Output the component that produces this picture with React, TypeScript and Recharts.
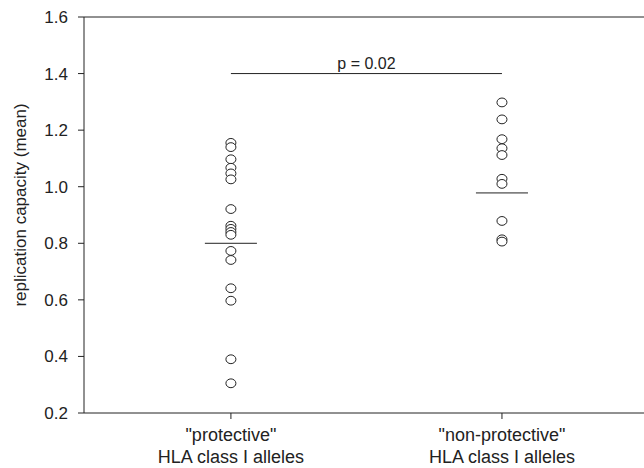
import { ScatterChart, Scatter, XAxis, YAxis, ReferenceLine } from 'recharts'

// replication capacity per allele
const protectiveValues = [1.155, 1.14, 1.097, 1.067, 1.047, 1.026, 0.921, 0.862, 0.851, 0.84, 0.83, 0.773, 0.741, 0.641, 0.597, 0.39, 0.305]
const nonProtectiveValues = [1.298, 1.238, 1.168, 1.136, 1.112, 1.028, 1.01, 0.879, 0.814, 0.806]
const groupMeans = [0.8, 0.978]
const groupLabels = [['"protective"', 'HLA class I alleles'], ['"non-protective"', 'HLA class I alleles']]
const yTicks = [0.2, 0.4, 0.6, 0.8, 1.0, 1.2, 1.4, 1.6]
const pValue = 'p = 0.02'
const bracketLevel = 1.4

const protectiveData = protectiveValues.map((v) => ({ x: 1, y: v }))
const nonProtectiveData = nonProtectiveValues.map((v) => ({ x: 2, y: v }))

const ink = '#222'
const font = '"Liberation Sans", Arial, sans-serif'
const meanHalf = 0.096

function OpenDot(props: any) {
  const { cx, cy } = props
  return <ellipse cx={cx} cy={cy} rx={5} ry={4.4} fill="#fff" stroke={ink} strokeWidth={1} />
}

function GroupTick(props: any) {
  const { x, y, payload } = props
  const lines = groupLabels[payload.value - 1] || []
  return (
    <text x={x} y={y} textAnchor="middle" fill={ink} fontSize={18} fontFamily={font}>
      {lines.map((line, i) => (
        <tspan key={i} x={x} dy={i === 0 ? 20 : 22}>{line}</tspan>
      ))}
    </text>
  )
}

function YTitle(props: any) {
  const { viewBox } = props
  const cx = viewBox.x + 20
  const cy = viewBox.y + viewBox.height / 2 - 10
  return (
    <text x={cx} y={cy} transform={`rotate(-90 ${cx} ${cy})`} textAnchor="middle" dominantBaseline="central"
      fill={ink} fontSize={17} fontFamily={font}>
      replication capacity (mean)
    </text>
  )
}

export default function App() {
  return (
    <div style={{ position: 'absolute', left: 0, top: 0, background: '#fff' }}>
      <ScatterChart width={644} height={468} margin={{ top: 17, right: 0, bottom: 0, left: 0 }}>
        <XAxis
          type="number"
          dataKey="x"
          domain={[0.458, 2.524]}
          ticks={[1, 2]}
          tick={<GroupTick />}
          tickSize={6}
          height={55}
          stroke={ink}
          allowDataOverflow
        />
        <YAxis
          type="number"
          dataKey="y"
          domain={[0.2, 1.6]}
          ticks={yTicks}
          tickFormatter={(v) => v.toFixed(1)}
          tick={{ fill: ink, fontSize: 17, fontFamily: font }}
          tickSize={6}
          tickMargin={10}
          width={84}
          stroke={ink}
          label={<YTitle />}
        />
        {/* top frame line */}
        <ReferenceLine y={1.6} stroke={ink} />
        {/* significance bracket */}
        <ReferenceLine
          segment={[{ x: 1, y: bracketLevel }, { x: 2, y: bracketLevel }]}
          stroke={ink}
          label={{ value: pValue, position: 'top', fill: ink, fontSize: 16, fontFamily: font, offset: 5 }}
        />
        {groupMeans.map((m, i) => (
          <ReferenceLine key={i} segment={[{ x: i + 1 - meanHalf, y: m }, { x: i + 1 + meanHalf, y: m }]} stroke={ink} />
        ))}
        <Scatter data={protectiveData} shape={<OpenDot />} isAnimationActive={false} />
        <Scatter data={nonProtectiveData} shape={<OpenDot />} isAnimationActive={false} />
      </ScatterChart>
    </div>
  )
}
